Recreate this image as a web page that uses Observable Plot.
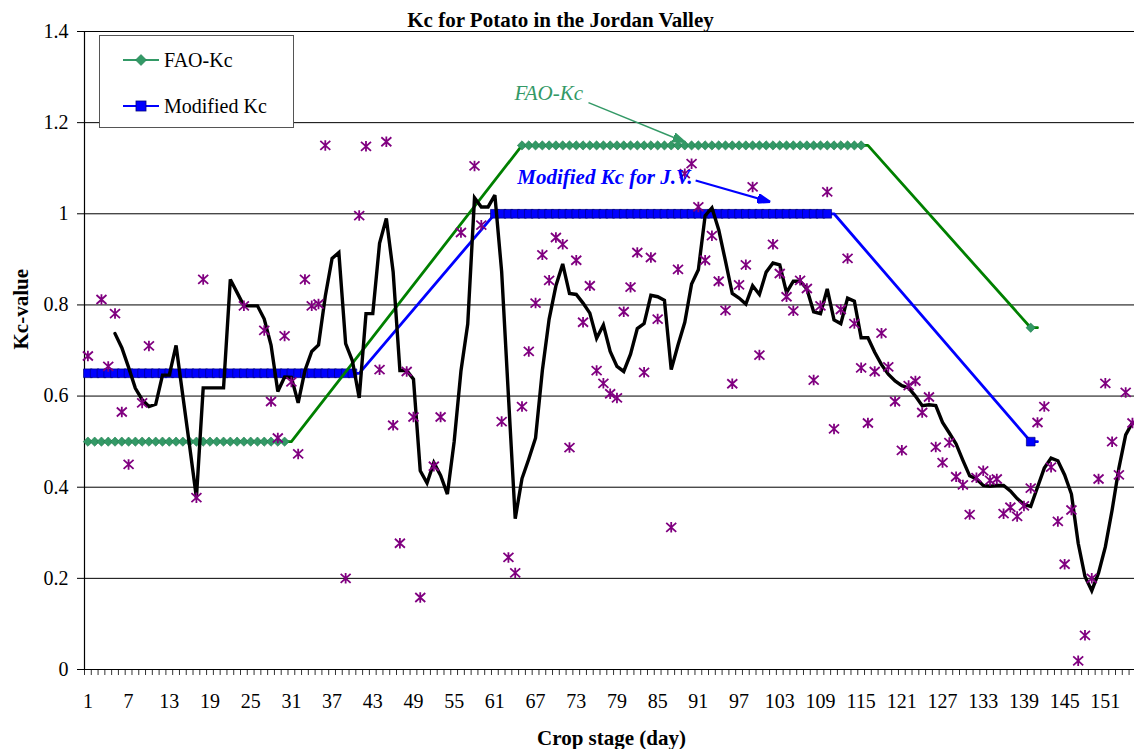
<!DOCTYPE html>
<html>
<head>
<meta charset="utf-8">
<script src="https://cdn.jsdelivr.net/npm/d3@7"></script>
<script src="https://cdn.jsdelivr.net/npm/@observablehq/plot@0.6"></script>
<style>
html, body { margin: 0; padding: 0; background: #fff; }
#wrap { position: relative; width: 1134px; height: 749px; overflow: hidden; font-family: "Liberation Serif", "Times New Roman", serif; }
#legend { position: absolute; left: 99px; top: 35px; width: 195px; height: 93px; box-sizing: border-box; border: 1px solid #555; background: #fff; }
#legend svg { position: absolute; left: -1px; top: -1px; overflow: visible; }
#legend svg text { font-family: "Liberation Serif", "Times New Roman", serif; font-size: 20px; fill: #000; }
</style>
</head>
<body>
<div id="wrap">
  <div id="chart"></div>
  <div id="legend">
    <svg width="195" height="93">
      <line x1="24" x2="60" y1="25" y2="25" stroke="#339966" stroke-width="2"></line>
      <path d="M42,19.5L47.5,25L42,30.5L36.5,25Z" fill="#339966" stroke="#1e7a4e" stroke-width="0.6"></path>
      <text x="65" y="32">FAO-Kc</text>
      <line x1="24" x2="60" y1="71" y2="71" stroke="#0000ff" stroke-width="2"></line>
      <rect x="37" y="66" width="10" height="10" fill="#0000ff" stroke="#000080" stroke-width="0.8"></rect>
      <text x="65" y="78">Modified Kc</text>
    </svg>
  </div>
</div>
<script>
// ---------------- data ----------------
const yTicks = [0, 0.2, 0.4, 0.6, 0.8, 1, 1.2, 1.4];
const xLabels = [1, 7, 13, 19, 25, 31, 37, 43, 49, 55, 61, 67, 73, 79, 85, 91, 97, 103, 109, 115, 121, 127, 133, 139, 145, 151];

// FAO-Kc curve (stage break points)
const faoDays = [1, 31, 65, 116, 140, 141];
const faoKc   = [0.5, 0.5, 1.15, 1.15, 0.75, 0.75];
// FAO-Kc marker runs
const faoMarkFrom = [1, 65, 140];
const faoMarkTo   = [30, 115, 140];
const faoMarkKc   = [0.5, 1.15, 0.75];

// Modified Kc for J.V. (stage break points)
const modDays = [1, 41, 61, 111, 140, 141];
const modKc   = [0.65, 0.65, 1.0, 1.0, 0.5, 0.5];
const modMarkFrom = [1, 61, 140];
const modMarkTo   = [40, 110, 140];
const modMarkKc   = [0.65, 1.0, 0.5];

// Observed daily Kc (asterisks)
const obsDays = [1,3,4,5,6,7,9,10,17,18,24,27,28,29,30,31,32,33,34,35,36,39,41,42,44,45,46,47,48,49,50,52,53,56,58,59,
  62,63,64,65,66,67,68,69,70,71,72,73,74,75,76,77,78,79,80,81,82,83,84,85,87,88,89,90,91,92,93,94,95,96,97,98,99,100,
  102,103,104,105,106,107,108,109,110,111,112,113,114,115,116,117,118,119,120,121,122,123,124,125,126,127,128,129,130,
  131,132,133,134,135,136,137,138,139,140,141,142,143,144,145,146,147,148,149,150,151,152,153,154,155];
const obsKc = [0.688,0.812,0.665,0.781,0.565,0.45,0.585,0.71,0.377,0.856,0.798,0.744,0.588,0.508,0.732,0.631,0.473,0.856,0.798,0.802,1.15,0.2,0.996,1.148,0.658,1.158,0.536,0.277,0.654,0.554,0.158,0.446,0.554,0.959,1.105,0.975,
  0.544,0.246,0.212,0.577,0.698,0.804,0.91,0.854,0.948,0.933,0.487,0.898,0.762,0.842,0.656,0.628,0.605,0.596,0.785,0.839,0.915,0.652,0.904,0.769,0.312,0.878,1.088,1.11,1.015,0.898,0.952,0.852,0.788,0.627,0.844,0.888,1.059,0.69,
  0.933,0.869,0.818,0.787,0.854,0.836,0.635,0.798,1.048,0.528,0.79,0.902,0.759,0.662,0.541,0.654,0.738,0.664,0.588,0.481,0.623,0.633,0.564,0.598,0.488,0.454,0.498,0.423,0.405,
  0.34,0.421,0.436,0.415,0.418,0.342,0.356,0.336,0.359,0.398,0.542,0.577,0.444,0.325,0.231,0.35,0.019,0.075,0.2,0.418,0.628,0.5,0.427,0.608,0.541];

// Smoothed Kc (black line), days 5..155
const avgFirstDay = 5;
const avgKc = [0.737,0.706,0.663,0.617,0.592,0.577,0.582,0.646,0.646,0.711,0.6,0.49,0.377,0.618,0.618,0.618,0.618,0.856,0.827,0.798,0.798,0.798,
  0.769,0.712,0.61,0.642,0.641,0.585,0.656,0.698,0.712,0.819,0.902,0.915,0.715,0.677,0.596,0.781,0.781,0.935,0.99,0.873,0.656,0.656,0.637,0.436,
  0.409,0.454,0.426,0.385,0.5,0.655,0.758,1.035,1.015,1.015,1.041,0.873,0.6,0.331,0.419,0.462,0.508,0.656,0.769,0.842,0.89,0.825,0.823,0.804,
  0.782,0.727,0.756,0.698,0.665,0.654,0.692,0.748,0.759,0.821,0.818,0.81,0.658,0.712,0.762,0.846,0.877,0.996,1.013,0.965,0.896,0.825,0.815,
  0.802,0.842,0.823,0.872,0.892,0.888,0.827,0.852,0.852,0.835,0.785,0.781,0.835,0.767,0.759,0.815,0.808,0.728,0.728,0.696,0.669,0.648,0.633,
  0.623,0.618,0.6,0.579,0.581,0.579,0.542,0.519,0.495,0.459,0.425,0.418,0.404,0.402,0.404,0.404,0.392,0.375,0.362,0.358,0.4,0.442,0.464,0.458,
  0.427,0.385,0.277,0.204,0.173,0.212,0.269,0.35,0.442,0.515,0.542];

// Annotations
const noteFaoText = ["FAO-Kc"];
const noteFaoDay = [74.0], noteFaoKc = [1.264];
const noteModText = ["Modified Kc for J.V."];
const noteModDay = [64.3], noteModKc = [1.081];
const arrowFromDay = [74.8, 90.6], arrowFromKc = [1.244, 1.073];
const arrowToDay   = [89.1, 101.6], arrowToKc   = [1.157, 1.026];
const arrowColor   = ["#339966", "#0000ff"];
const arrowWidth   = [1.5, 2];

const titleText = "Kc for Potato in the Jordan Valley";
const xTitle = "Crop stage (day)";
const yTitle = "Kc-value";

// ---------------- tables ----------------
const fao = faoDays.map((d, i) => ({day: d, kc: faoKc[i]}));
const mod = modDays.map((d, i) => ({day: d, kc: modKc[i]}));
const expand = (from, to, kc) => from.flatMap((f, i) => d3.range(f, to[i] + 1).map(day => ({day, kc: kc[i]})));
const faoMarks = expand(faoMarkFrom, faoMarkTo, faoMarkKc);
const modMarks = expand(modMarkFrom, modMarkTo, modMarkKc);
const obs = obsDays.map((d, i) => ({day: d, kc: obsKc[i]}));
const avg = avgKc.map((v, i) => ({day: avgFirstDay + i, kc: v}));
const arrows = arrowFromDay.map((d, i) => ({x1: d, y1: arrowFromKc[i], x2: arrowToDay[i], y2: arrowToKc[i], c: arrowColor[i], w: arrowWidth[i]}));
const boundaries = d3.range(0.5, 155, 1);

const starSymbol = {
  draw(ctx, size) {
    const r = Math.sqrt(size / Math.PI);
    ctx.moveTo(-r, -r * 0.9); ctx.lineTo(r, r * 0.9);
    ctx.moveTo(-r, r * 0.9); ctx.lineTo(r, -r * 0.9);
    ctx.moveTo(0, -r * 1.05); ctx.lineTo(0, r * 1.05);
  }
};

function filledHead(color, context) {
  const doc = (context && context.document) || document;
  const ns = "http://www.w3.org/2000/svg";
  const m = doc.createElementNS(ns, "marker");
  m.setAttribute("viewBox", "-13 -5 13 10");
  m.setAttribute("markerWidth", "13");
  m.setAttribute("markerHeight", "10");
  m.setAttribute("markerUnits", "userSpaceOnUse");
  m.setAttribute("orient", "auto");
  m.setAttribute("refX", "0");
  m.setAttribute("refY", "0");
  const p = doc.createElementNS(ns, "path");
  p.setAttribute("d", "M-13,-4.5L0,0L-13,4.5Z");
  p.setAttribute("fill", color);
  m.appendChild(p);
  return m;
}

function build(useCustomMarker) {
  const arrowMarks = useCustomMarker
    ? arrows.map(a => Plot.link([a], {x1: "x1", y1: "y1", x2: "x2", y2: "y2", stroke: a.c, strokeWidth: a.w, markerEnd: filledHead}))
    : arrows.map(a => Plot.arrow([a], {x1: "x1", y1: "y1", x2: "x2", y2: "y2", stroke: a.c, strokeWidth: a.w, headLength: 12}));
  return Plot.plot({
    width: 1134,
    height: 749,
    marginLeft: 84,
    marginRight: 0,
    marginTop: 31,
    marginBottom: 80,
    style: {fontFamily: "'Liberation Serif', 'Times New Roman', serif", fontSize: "20px", background: "white", overflow: "visible"},
    x: {domain: [0.5, 155.3], axis: null},
    y: {domain: [0, 1.4], axis: null},
    marks: [
      Plot.gridY(yTicks, {stroke: "black", strokeOpacity: 1, strokeWidth: 1}),
      Plot.axisX(boundaries, {tickSize: 6, tickFormat: () => "", stroke: "#333", strokeWidth: 1}),
      Plot.axisX(xLabels, {tickSize: 0, tickPadding: 24, tickFormat: d => String(d), fontSize: 20}),
      Plot.axisY(yTicks, {tickSize: 7, tickPadding: 9, tickFormat: d => String(d), fontSize: 20}),
      Plot.ruleX([0.5], {stroke: "black", strokeWidth: 1.2}),
      Plot.ruleY([0], {stroke: "black", strokeWidth: 1.2}),
      Plot.line(mod, {x: "day", y: "kc", stroke: "#0000ff", strokeWidth: 2.8}),
      Plot.dot(modMarks, {x: "day", y: "kc", symbol: "square", r: 4.9, fill: "#0000ff", stroke: "#000080", strokeWidth: 0.7}),
      Plot.line(fao, {x: "day", y: "kc", stroke: "#008000", strokeWidth: 2.8}),
      Plot.dot(faoMarks, {x: "day", y: "kc", symbol: "diamond2", r: 4.2, fill: "#339966", stroke: "#1e7a4e", strokeWidth: 0.6}),
      Plot.line(avg, {x: "day", y: "kc", stroke: "black", strokeWidth: 3.4, strokeLinejoin: "miter", strokeMiterlimit: 3}),
      Plot.dot(obs, {x: "day", y: "kc", symbol: starSymbol, r: 5, fill: "none", stroke: "#800080", strokeWidth: 1.8}),
      ...arrowMarks,
      Plot.text(noteFaoText, {x: noteFaoDay, y: noteFaoKc, text: d => d, textAnchor: "end", lineAnchor: "middle", fill: "#339966", fontStyle: "italic", fontSize: 21}),
      Plot.text(noteModText, {x: noteModDay, y: noteModKc, text: d => d, textAnchor: "start", lineAnchor: "middle", fill: "#0000ff", fontStyle: "italic", fontWeight: "bold", fontSize: 21}),
      Plot.text([titleText], {frameAnchor: "top", lineAnchor: "middle", dx: -49, dy: -11, text: d => d, fontWeight: "bold", fontSize: 21, fill: "black"}),
      Plot.text([xTitle], {frameAnchor: "bottom", lineAnchor: "middle", dx: 2, dy: 69, text: d => d, fontWeight: "bold", fontSize: 21, fill: "black"}),
      Plot.text([yTitle], {frameAnchor: "left", lineAnchor: "middle", dx: -63, dy: -1, rotate: -90, text: d => d, fontWeight: "bold", fontSize: 21, fill: "black"})
    ]
  });
}

let chart;
try {
  chart = build(true);
} catch (e) {
  chart = build(false);
}
document.getElementById("chart").appendChild(chart);
</script>
</body>
</html>
